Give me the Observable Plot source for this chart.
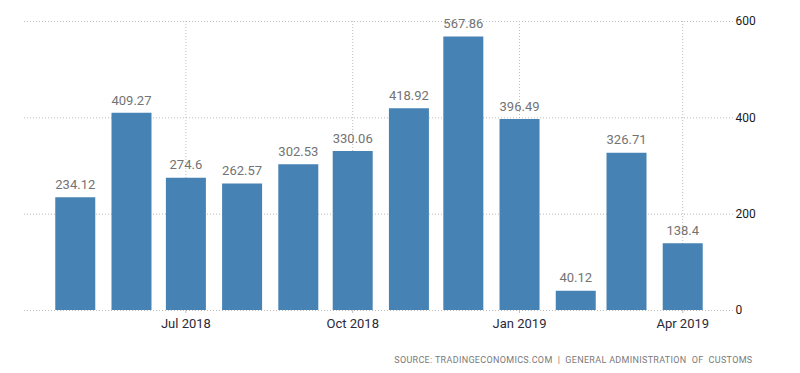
<!DOCTYPE html>
<html>
<head>
<meta charset="utf-8">
<script src="https://cdn.jsdelivr.net/npm/d3@7"></script>
<script src="https://cdn.jsdelivr.net/npm/@observablehq/plot@0.6"></script>
<style>
  html, body { margin: 0; padding: 0; background: #fff; }
  #chart { width: 800px; height: 373px; }
  .src text { letter-spacing: 0.32px; }
</style>
</head>
<body>
<div id="chart"></div>
<script>
const months = ["2018-05-01","2018-06-01","2018-07-01","2018-08-01","2018-09-01","2018-10-01",
                "2018-11-01","2018-12-01","2019-01-01","2019-02-01","2019-03-01","2019-04-01"];
const values = [234.12, 409.27, 274.6, 262.57, 302.53, 330.06, 418.92, 567.86, 396.49, 40.12, 326.71, 138.4];
const xTickDates = ["2018-07-01","2018-10-01","2019-01-01","2019-04-01"];
const xTickLabels = ["Jul 2018","Oct 2018","Jan 2019","Apr 2019"];
const yTicks = [0, 200, 400, 600];
const source = ["SOURCE: TRADINGECONOMICS.COM  |  GENERAL ADMINISTRATION  OF  CUSTOMS"];

const data = months.map((m, i) => ({date: new Date(m), value: values[i]}));
const xt = xTickDates.map(d => new Date(d));

const chart = Plot.plot({
  width: 800,
  height: 373,
  marginLeft: 24,
  marginRight: 67,
  marginTop: 21,
  marginBottom: 63,
  style: {fontFamily: "Roboto, 'Liberation Sans', sans-serif", background: "#fff"},
  x: {type: "utc", domain: [new Date("2018-04-03"), new Date("2019-04-29")]},
  y: {domain: [0, 600]},
  marks: [
    Plot.gridY(yTicks, {stroke: "#bdbdbd", strokeOpacity: 1, strokeDasharray: "1,2"}),
    Plot.gridX(xt, {stroke: "#bdbdbd", strokeOpacity: 1, strokeDasharray: "1,2"}),
    Plot.ruleX(data, {x: "date", y1: 0, y2: "value", stroke: "#4682b4", strokeWidth: 40}),
    Plot.text(data, {x: "date", y: "value", text: d => String(d.value), dy: -13,
      fill: "#737373", fontSize: 13}),
    Plot.axisX(xt, {tickFormat: (d, i) => xTickLabels[i], tickSize: 3, tickPadding: 5,
      stroke: "#bdbdbd", fill: "#2a2a3a", fontSize: 13, label: null}),
    Plot.axisY(yTicks, {anchor: "right", tickSize: 0, tickPadding: 2, textAnchor: "start",
      fill: "#1a1a1a", fontSize: 12, label: null}),
    Plot.text(source, {frameAnchor: "bottom-right", text: d => d, textAnchor: "end",
      lineAnchor: "bottom", dx: 19, dy: 52, fill: "#7a7a7a", fontSize: 9, className: "src"})
  ]
});
d3.select(chart).selectAll("text")
  .filter(function() { return this.textContent.startsWith("SOURCE"); })
  .attr("letter-spacing", "0.32px");
document.getElementById("chart").appendChild(chart);
</script>
</body>
</html>
